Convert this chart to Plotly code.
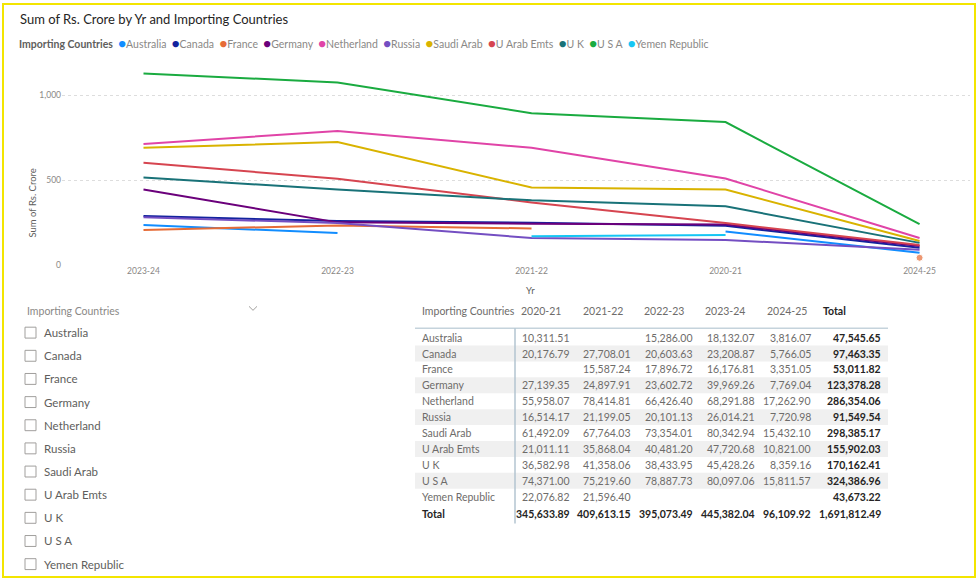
import plotly.graph_objects as go

# ---------------- data ----------------
years_axis = ["2023-24", "2022-23", "2021-22", "2020-21", "2024-25"]
countries = ["Australia", "Canada", "France", "Germany", "Netherland", "Russia",
             "Saudi Arab", "U Arab Emts", "U K", "U S A", "Yemen Republic"]
colors = ["#118DFF", "#12239E", "#E66C37", "#6B007B", "#E044A7", "#744EC2",
          "#D9B300", "#D64550", "#197278", "#1AAB40", "#15C6F4"]

# chart values (Sum of Rs. Crore), in the order of years_axis
australia = [234, 187, None, 196, 70]
canada = [287, 258, 248, 230, 100]
france = [205, 232, 214, None, 41]
germany = [444, 250, 242, 238, 111]
netherland = [713, 789, 690, 509, 158]
russia = [280, 246, 158, 146, 88]
saudi_arab = [690, 725, 456, 444, 140]
u_arab_emts = [602, 507, 368, 246, 117]
u_k = [515, 444, 380, 345, 129]
u_s_a = [1129, 1076, 895, 842, 240]
yemen_republic = [None, None, 168, 176, None]
chart_series = [australia, canada, france, germany, netherland, russia,
                saudi_arab, u_arab_emts, u_k, u_s_a, yemen_republic]

# table values
table_years = ["2020-21", "2021-22", "2022-23", "2023-24", "2024-25"]
t_australia = [10311.51, None, 15286.00, 18132.07, 3816.07]
t_canada = [20176.79, 27708.01, 20603.63, 23208.87, 5766.05]
t_france = [None, 15587.24, 17896.72, 16176.81, 3351.05]
t_germany = [27139.35, 24897.91, 23602.72, 39969.26, 7769.04]
t_netherland = [55958.07, 78414.81, 66426.40, 68291.88, 17262.90]
t_russia = [16514.17, 21199.05, 20101.13, 26014.21, 7720.98]
t_saudi_arab = [61492.09, 67764.03, 73354.01, 80342.94, 15432.10]
t_u_arab_emts = [21011.11, 35868.04, 40481.20, 47720.68, 10821.00]
t_u_k = [36582.98, 41358.06, 38433.95, 45428.26, 8359.16]
t_u_s_a = [74371.00, 75219.60, 78887.73, 80097.06, 15811.57]
t_yemen_republic = [22076.82, 21596.40, None, None, None]
table_rows = [t_australia, t_canada, t_france, t_germany, t_netherland, t_russia,
              t_saudi_arab, t_u_arab_emts, t_u_k, t_u_s_a, t_yemen_republic]

# ---------------- layout helpers ----------------
W, H = 978, 585
FONT = "Segoe UI, Lato, sans-serif"


def px(x):
    return x / W


def py(y):
    return 1 - y / H


fig = go.Figure()

for name, vals, col in zip(countries, chart_series, colors):
    sizes = []
    for i, v in enumerate(vals):
        prev_none = i == 0 or vals[i - 1] is None
        next_none = i == len(vals) - 1 or vals[i + 1] is None
        sizes.append(7 if (v is not None and prev_none and next_none) else 0)
    fig.add_trace(go.Scatter(
        x=years_axis, y=vals, name=name, mode="lines+markers",
        line=dict(color=col, width=2), marker=dict(color=col, size=sizes),
        connectgaps=False, showlegend=False))

annotations = []
shapes = []

# title
annotations.append(dict(x=px(18), y=py(19), xref="paper", yref="paper", xanchor="left",
                        yanchor="middle", showarrow=False,
                        text="Sum of Rs. Crore by Yr and Importing Countries",
                        font=dict(family=FONT, size=13, color="#252423")))

# custom legend
parts = ["<span style='color:#605E5C'><b>Importing Countries</b></span>&nbsp;&nbsp;"]
for name, col in zip(countries, colors):
    parts.append(f"<span style='color:{col};font-size:13px'>●</span>{name}&nbsp;&nbsp;")
annotations.append(dict(x=px(17), y=py(43), xref="paper", yref="paper", xanchor="left",
                        yanchor="middle", showarrow=False, text="".join(parts),
                        font=dict(family=FONT, size=10.5, color="#8A8886")))

# axis titles
annotations.append(dict(x=px(530), y=py(293), xref="paper", yref="paper", showarrow=False,
                        text="Yr", font=dict(family=FONT, size=9.5, color="#605E5C")))
annotations.append(dict(x=px(25), y=py(168), xref="paper", yref="paper", showarrow=False,
                        text="Sum of Rs. Crore", textangle=-90,
                        font=dict(family=FONT, size=9.5, color="#605E5C")))

# ---------------- slicer ----------------
annotations.append(dict(x=px(25), y=py(314), xref="paper", yref="paper", xanchor="left",
                        yanchor="middle", showarrow=False, text="Importing Countries",
                        font=dict(family=FONT, size=10.5, color="#8A8886")))
shapes.append(dict(type="path", xref="paper", yref="paper",
                   path=f"M {px(249)} {py(309)} L {px(253)} {py(313)} L {px(257)} {py(309)}",
                   line=dict(color="#A19F9D", width=1)))
for i, name in enumerate(countries):
    yc = 335.5 + 23.35 * i
    shapes.append(dict(type="rect", xref="paper", yref="paper",
                       x0=px(25), x1=px(36), y0=py(yc - 5.5), y1=py(yc + 5.5),
                       line=dict(color="#A19F9D", width=1), fillcolor="white"))
    annotations.append(dict(x=px(42), y=py(yc), xref="paper", yref="paper", xanchor="left",
                            yanchor="middle", showarrow=False, text=name,
                            font=dict(family=FONT, size=11.5, color="#605E5C")))

# ---------------- table ----------------
T_LEFT, T_RIGHT = 415, 888
col_left = [516, 578, 639, 700, 762, 818]
col_right = [576, 637, 699, 761, 817, 887]
row0, pitch = 340.5, 16.05
header_y = 314
tfont = dict(family=FONT, size=10.5, color="#6E6C6A")
tfont_b = dict(family=FONT, size=10.5, color="#252423")

annotations.append(dict(x=px(420), y=py(header_y), xref="paper", yref="paper", xanchor="left",
                        yanchor="middle", showarrow=False, text="Importing Countries", font=tfont))
for j, hdr in enumerate(table_years + ["Total"]):
    annotations.append(dict(x=px(col_left[j] + 3), y=py(header_y), xref="paper", yref="paper",
                            xanchor="left", yanchor="middle", showarrow=False,
                            text=f"<b>{hdr}</b>" if hdr == "Total" else hdr,
                            font=tfont_b if hdr == "Total" else tfont))

for i, (name, vals) in enumerate(zip(countries, table_rows)):
    yc = row0 + pitch * i
    if i % 2 == 1:
        shapes.append(dict(type="rect", xref="paper", yref="paper", layer="below",
                           x0=px(T_LEFT), x1=px(T_RIGHT), y0=py(yc - pitch / 2), y1=py(yc + pitch / 2),
                           line=dict(width=0), fillcolor="#F0F0F0"))
    annotations.append(dict(x=px(420), y=py(yc), xref="paper", yref="paper", xanchor="left",
                            yanchor="middle", showarrow=False, text=name, font=tfont))
    row_vals = vals + [sum(v for v in vals if v is not None)]
    for j, v in enumerate(row_vals):
        if v is None:
            continue
        last = j == len(row_vals) - 1
        annotations.append(dict(x=px(col_right[j] - 4), y=py(yc), xref="paper", yref="paper",
                                xanchor="right", yanchor="middle", showarrow=False,
                                text=f"<b>{v:,.2f}</b>" if last else f"{v:,.2f}",
                                font=tfont_b if last else tfont))

# totals row
yt = row0 + pitch * len(countries) + 1
annotations.append(dict(x=px(420), y=py(yt), xref="paper", yref="paper", xanchor="left",
                        yanchor="middle", showarrow=False, text="<b>Total</b>", font=tfont_b))
col_totals = [sum(r[j] for r in table_rows if r[j] is not None) for j in range(len(table_years))]
col_totals.append(sum(col_totals))
for j, v in enumerate(col_totals):
    annotations.append(dict(x=px(col_right[j] - 4), y=py(yt), xref="paper", yref="paper",
                            xanchor="right", yanchor="middle", showarrow=False,
                            text=f"<b>{v:,.2f}</b>", font=tfont_b))

# table lines
shapes.append(dict(type="line", xref="paper", yref="paper", x0=px(T_LEFT), x1=px(T_RIGHT),
                   y0=py(331), y1=py(331), line=dict(color="#C5D3DC", width=1.5)))
shapes.append(dict(type="line", xref="paper", yref="paper", x0=px(515), x1=px(515),
                   y0=py(331), y1=py(528), line=dict(color="#B3C5D1", width=1.5)))

# outer yellow frame
shapes.append(dict(type="rect", xref="paper", yref="paper", x0=px(3), x1=px(975),
                   y0=py(582), y1=py(4), line=dict(color="#F3E500", width=2)))

fig.update_layout(
    width=W, height=H, margin=dict(l=0, r=0, t=0, b=0),
    paper_bgcolor="white", plot_bgcolor="white",
    font=dict(family=FONT, color="#605E5C"),
    annotations=annotations, shapes=shapes, showlegend=False,
    xaxis=dict(domain=[px(62), px(970)], type="category", categoryorder="array",
               categoryarray=years_axis, range=[-0.42, 4.26], showgrid=False,
               showline=False, zeroline=False, ticks="",
               tickfont=dict(family=FONT, size=8.5, color="#8A8886")),
    yaxis=dict(domain=[py(267), py(62)], range=[0, 1200], tickvals=[0, 500, 1000],
               tickformat=",", showgrid=True, gridcolor="#DDDDDD", griddash="dot",
               zeroline=False, showline=False, ticks="",
               tickfont=dict(family=FONT, size=8.5, color="#8A8886")),
)

fig.write_html("out.html")
